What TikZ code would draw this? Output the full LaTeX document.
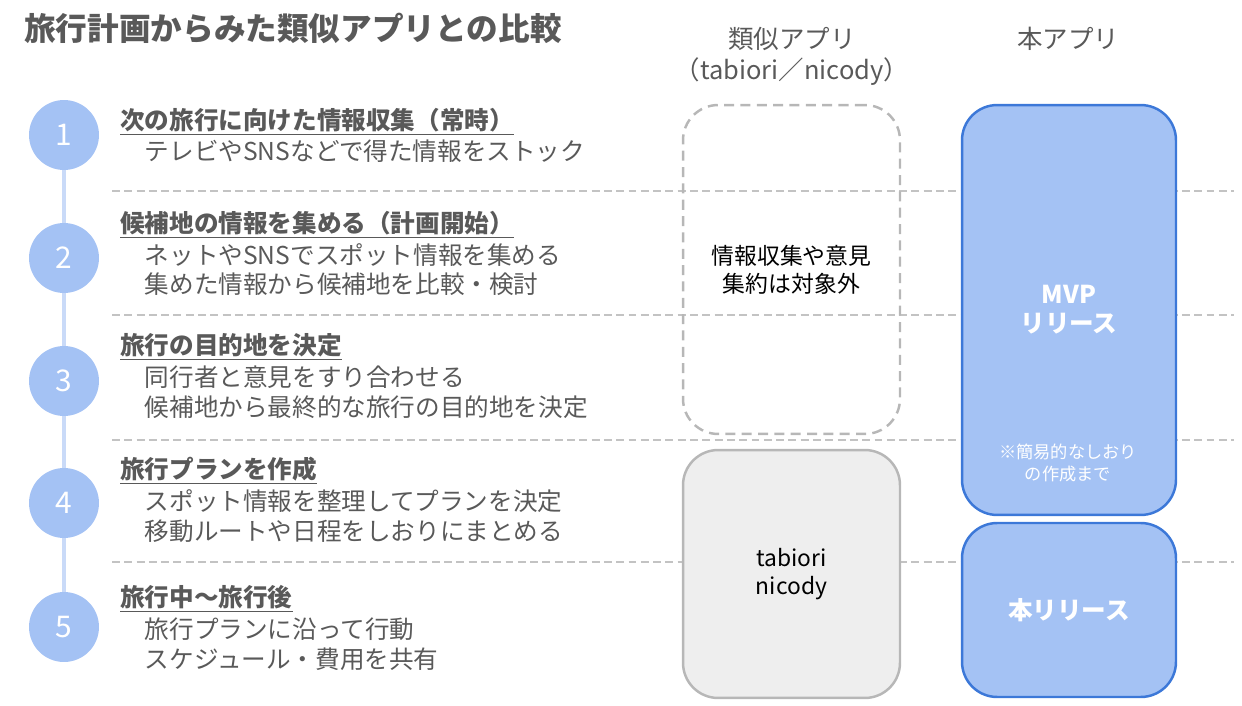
\documentclass[tikz,border=0pt]{standalone}
\usepackage{fontspec}
\setmainfont{Noto Sans CJK JP}
\usetikzlibrary{positioning,backgrounds}

\definecolor{txtgray}{HTML}{595959}
\definecolor{stepblue}{HTML}{A4C2F4}
\definecolor{linkblue}{HTML}{C9DAF8}
\definecolor{edgeblue}{HTML}{3C78D8}
\definecolor{rulegray}{HTML}{C3C3C3}
\definecolor{boxgray}{HTML}{EEEEEE}
\definecolor{edgegray}{HTML}{B7B7B7}

\begin{document}
\begin{tikzpicture}[x=0.02cm, y=-0.02cm,
    stepdot/.style={circle, fill=stepblue, minimum size=1.4cm, inner sep=0pt,
      text=white, font=\fontsize{17}{20}\selectfont},
    steptext/.style={anchor=base west, align=left, inner sep=0pt, text=txtgray,
      font=\fontsize{14}{17}\selectfont},
    colhead/.style={anchor=base, align=center, inner sep=0pt, text=txtgray,
      font=\fontsize{14.5}{18}\selectfont},
    rowrule/.style={rulegray, line width=0.6pt, dash pattern=on 4.5pt off 2.5pt},
    simbox/.style={draw=edgegray, line width=1.4pt, dash pattern=on 5.7pt off 3.6pt,
      rounded corners=20pt, minimum width=4.34cm, align=center,
      font=\fontsize{13}{16}\selectfont},
    oldbox/.style={draw=edgegray, fill=boxgray, line width=1.4pt,
      rounded corners=20pt, minimum width=4.34cm, align=center,
      font=\fontsize{13}{16}\selectfont},
    appbox/.style={draw=edgeblue, fill=stepblue, line width=1.4pt,
      rounded corners=20pt, minimum width=4.28cm, align=center, text=white,
      font=\bfseries\fontsize{14}{16.5}\selectfont}]
  \useasboundingbox (0,0) rectangle (1242,706);

  % Title.
  \node[anchor=base west, inner sep=0pt, text=txtgray,
    font=\bfseries\fontsize{18}{22}\selectfont] (title) at (24,41)
    {旅行計画からみた類似アプリとの比較};

  % Row separators.
  \foreach \y in {191,315,440,562}
    \draw[rowrule] (112,\y) -- (1234,\y);

  % Steps on the left (base = last line).
  \foreach \n/\y in {1/135,2/258,3/381,4/503,5/627}
    \node[stepdot] (s\n) at (64,\y) {\n};
  \begin{scope}[on background layer]
    \draw[linkblue, line width=2.3pt] (s1.center) -- (s5.center);
  \end{scope}

  \node[steptext] (t1) at (120,161)
    {\underline{\textbf{次の旅行に向けた情報収集（常時）}}\\[1pt]
     　テレビやSNSなどで得た情報をストック};
  \node[steptext] (t2) at (120,294)
    {\underline{\textbf{候補地の情報を集める（計画開始）}}\\[1pt]
     　ネットやSNSでスポット情報を集める\\
     　集めた情報から候補地を比較・検討};
  \node[steptext] (t3) at (120,416)
    {\underline{\textbf{旅行の目的地を決定}}\\[1pt]
     　同行者と意見をすり合わせる\\
     　候補地から最終的な旅行の目的地を決定};
  \node[steptext] (t4) at (120,540)
    {\underline{\textbf{旅行プランを作成}}\\[1pt]
     　スポット情報を整理してプランを決定\\
     　移動ルートや日程をしおりにまとめる};
  \node[steptext] (t5) at (120,668)
    {\underline{\textbf{旅行中～旅行後}}\\[1pt]
     　旅行プランに沿って行動\\
     　スケジュール・費用を共有};

  % Column heads.
  \node[colhead] (hsim) at (792,80) {類似アプリ\\（tabiori／nicody）};
  \node[colhead] (happ) at (1068,49) {本アプリ};

  % Similar apps.
  \node[simbox, minimum height=6.58cm] (simout) at (791.5,269.5)
    {情報収集や意見\\集約は対象外};
  \node[oldbox, minimum height=4.96cm] (simin) at (791.5,574)
    {tabiori\\nicody};

  % This app.
  \node[appbox, minimum height=8.2cm] (mvp) at (1069,310) {MVP\\リリース};
  \node[align=center, text=white, inner sep=0pt,
    font=\fontsize{9.8}{12.5}\selectfont] (note) at (1068,463)
    {※簡易的なしおり\\の作成まで};
  \node[appbox, minimum height=3.48cm] (full) at (1069,610) {本リリース};
\end{tikzpicture}
\end{document}
